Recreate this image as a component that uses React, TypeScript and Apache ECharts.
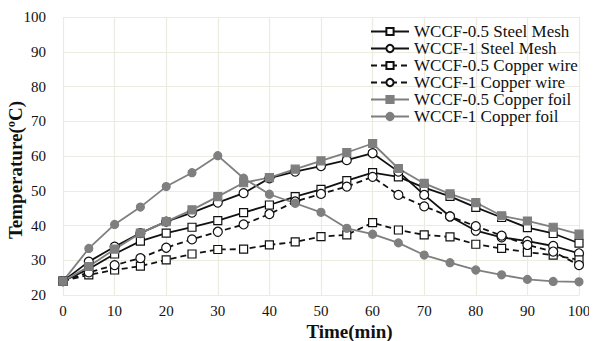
import React, { useEffect, useRef } from "react";
import * as echarts from "echarts";

const categories = ["0","5","10","15","20","25","30","35","40","45","50","55","60","65","70","75","80","85","90","95","100"];
const steelMesh05 = [24, 27.5, 31.8, 35.5, 37.8, 39.5, 41.4, 43.7, 45.9, 48.3, 50.4, 52.9, 55.2, 54.0, 50.9, 48.4, 45.2, 42.3, 39.4, 37.7, 34.9];
const steelMesh1 = [24, 29.6, 33.9, 37.8, 41.1, 43.7, 46.6, 49.3, 53.6, 55.5, 57.1, 58.8, 60.8, 55.5, 48.8, 42.6, 38.5, 36.6, 35.5, 34.1, 32.0];
const copperWire05 = [24, 25.8, 27.2, 28.3, 30.1, 31.8, 33.1, 33.2, 34.4, 35.3, 36.8, 37.3, 40.8, 38.7, 37.3, 36.7, 34.6, 33.4, 32.3, 31.5, 30.1];
const copperWire1 = [24, 26.5, 28.6, 30.6, 33.6, 36.0, 38.2, 40.3, 43.3, 46.9, 49.1, 51.2, 54.0, 48.8, 45.5, 42.6, 39.8, 37.1, 34.4, 32.5, 28.6];
const copperFoil05 = [24, 28.2, 33.2, 37.8, 41.1, 44.5, 48.3, 52.3, 53.8, 56.2, 58.6, 61.0, 63.6, 56.4, 52.1, 49.1, 46.6, 42.8, 41.3, 39.5, 37.5];
const copperFoil1 = [24, 33.4, 40.3, 45.3, 51.2, 55.2, 60.1, 53.6, 49.0, 46.4, 43.8, 39.2, 37.5, 35.0, 31.5, 29.3, 27.2, 25.8, 24.5, 23.9, 23.8];

const seriesNames = [
  "WCCF-0.5 Steel Mesh",
  "WCCF-1 Steel Mesh",
  "WCCF-0.5 Copper wire",
  "WCCF-1 Copper wire",
  "WCCF-0.5 Copper foil",
  "WCCF-1 Copper foil",
];

const FONT = "Liberation Serif";

export default function App() {
  const ref = useRef<HTMLDivElement>(null);
  useEffect(() => {
    if (!ref.current) return;
    const chart = echarts.init(ref.current, undefined, { renderer: "svg" });
    const black = "#111111";
    const gray = "#7f7f7f";
    const mk = (name: string, data: number[], color: string, dashed: boolean, symbol: string, filled: boolean, size: number) => ({
      name,
      type: "line",
      data,
      symbol,
      symbolSize: size,
      showSymbol: true,
      lineStyle: { color, width: 1.8, type: dashed ? [6, 4] : "solid" },
      itemStyle: { color: filled ? color : "#ffffff", borderColor: color, borderWidth: 1.2 },
    });
    chart.setOption({
      animation: false,
      grid: { left: 63, right: 18, top: 17, bottom: 46, containLabel: false, outerBoundsMode: "none" },
      legend: {
        orient: "vertical",
        left: 370,
        top: 23,
        padding: 0,
        itemWidth: 38,
        itemHeight: 9,
        itemGap: 0,
        textStyle: { fontFamily: FONT, fontSize: 17, color: "#111" },
        data: seriesNames,
      },
      xAxis: {
        type: "category",
        data: categories,
        boundaryGap: false,
        name: "Time(min)",
        nameLocation: "middle",
        nameGap: 27,
        nameMoveOverlap: false,
        nameTextStyle: { fontFamily: FONT, fontSize: 19, fontWeight: "bold", color: "#111", padding: [0, 0, 0, 57] },
        axisLine: { show: true, lineStyle: { color: "#ebebdf", width: 1 } },
        axisTick: { show: false },
        axisLabel: { fontFamily: FONT, fontSize: 15, color: "#111", margin: 8 },
        splitLine: { show: true, lineStyle: { color: "#ebebdf", width: 1.2 } },
      },
      yAxis: {
        type: "value",
        min: 20,
        max: 100,
        interval: 10,
        name: "Temperature(ºC)",
        nameLocation: "middle",
        nameGap: 38,
        nameMoveOverlap: false,
        nameTextStyle: { fontFamily: FONT, fontSize: 19, fontWeight: "bold", color: "#111", padding: [0, 28, 0, 0] },
        axisLine: { show: false },
        axisTick: { show: false },
        axisLabel: { fontFamily: FONT, fontSize: 15, color: "#111", margin: 17 },
        splitLine: { show: true, lineStyle: { color: "#ebebdf", width: 1.2 } },
      },
      series: [
        mk(seriesNames[0], steelMesh05, black, false, "rect", false, 8),
        mk(seriesNames[1], steelMesh1, black, false, "circle", false, 9),
        mk(seriesNames[2], copperWire05, black, true, "rect", false, 8),
        mk(seriesNames[3], copperWire1, black, true, "circle", false, 9),
        mk(seriesNames[4], copperFoil05, gray, false, "rect", true, 8),
        mk(seriesNames[5], copperFoil1, gray, false, "circle", true, 8),
      ],
    });
    return () => chart.dispose();
  }, []);
  return <div ref={ref} style={{ width: 597, height: 341, position: "relative", left: -8, top: -8 }} />;
}
